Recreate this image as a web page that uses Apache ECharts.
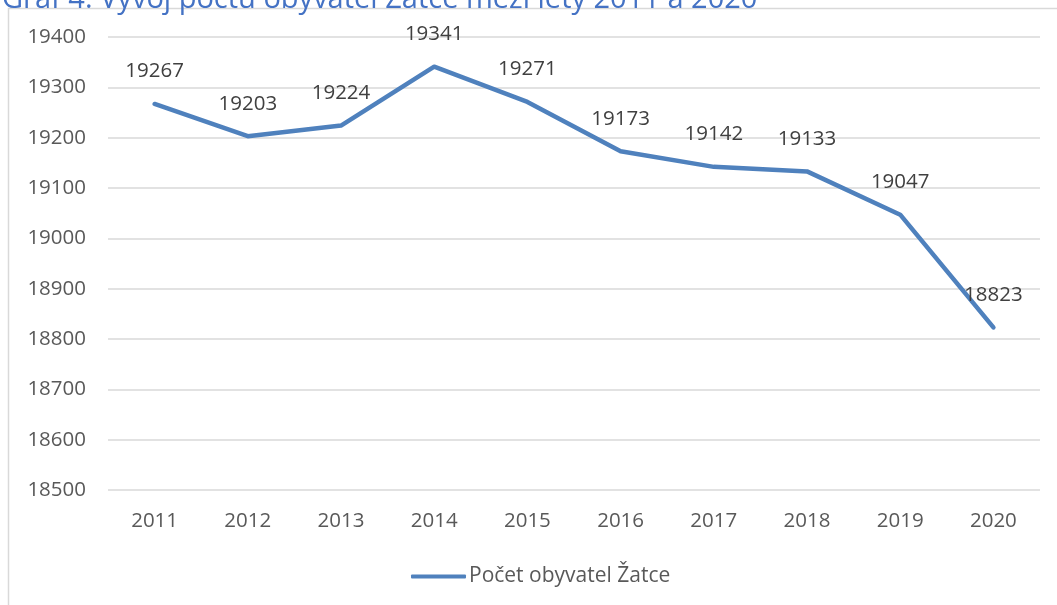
<!DOCTYPE html>
<html>
<head>
<meta charset="utf-8">
<script src="https://cdn.jsdelivr.net/npm/echarts@6/dist/echarts.min.js"></script>
<style>
html, body { margin: 0; padding: 0; background: #fff; }
#chart { width: 1057px; height: 605px; }
</style>
</head>
<body>
<div id="chart"></div>
<script>
// data
const years = ["2011", "2012", "2013", "2014", "2015", "2016", "2017", "2018", "2019", "2020"];
const population = [19267, 19203, 19224, 19341, 19271, 19173, 19142, 19133, 19047, 18823];
const seriesName = "Počet obyvatel Žatce";
const titleText = "Graf 4: Vývoj počtu obyvatel Žatce mezi lety 2011 a 2020";

const font = "'Open Sans', sans-serif";
const lineColor = "#4F81BD";
const textSize = 20.5;
const chart = echarts.init(document.getElementById("chart"));

chart.setOption({
    animation: false,
    textStyle: { fontFamily: font },
    title: {
        text: titleText,
        left: -3,
        top: -20,
        textStyle: { color: "#4472C4", fontSize: 29, fontWeight: "normal", fontFamily: font }
    },
    graphic: [{
        type: "rect",
        shape: { x: 8.5, y: 8.5, width: 1060, height: 620 },
        style: { fill: "none", stroke: "#d9d9d9", lineWidth: 1.5 },
        silent: true
    }],
    grid: { left: 108, right: 17, top: 37, bottom: 115, containLabel: false },
    legend: {
        data: [seriesName],
        bottom: 13,
        left: 406,
        itemWidth: 55,
        itemHeight: 4,
        itemGap: 4,
        icon: "roundRect",
        itemStyle: { color: lineColor },
        textStyle: { color: "#595959", fontSize: 21, fontFamily: font, padding: [0, 0, 0, -2] }
    },
    xAxis: {
        type: "category",
        data: years,
        boundaryGap: true,
        axisLine: { show: false },
        axisTick: { show: false },
        axisLabel: { color: "#595959", fontSize: textSize, margin: 21, fontFamily: font }
    },
    yAxis: {
        type: "value",
        min: 18500,
        max: 19400,
        interval: 100,
        axisLine: { show: false },
        axisTick: { show: false },
        axisLabel: { color: "#595959", fontSize: textSize, margin: 22, fontFamily: font, formatter: v => String(v) },
        splitLine: { lineStyle: { color: "#d9d9d9", width: 1.5 } }
    },
    series: [{
        name: seriesName,
        type: "line",
        data: population,
        symbol: "circle",
        symbolSize: 2,
        showSymbol: true,
        lineStyle: { color: lineColor, width: 4.5, cap: "round", join: "round" },
        itemStyle: { color: lineColor },
        label: {
            show: true,
            position: "top",
            distance: 21,
            color: "#404040",
            fontSize: textSize,
            fontFamily: font
        },
        labelLayout: { hideOverlap: false }
    }]
});
</script>
</body>
</html>
